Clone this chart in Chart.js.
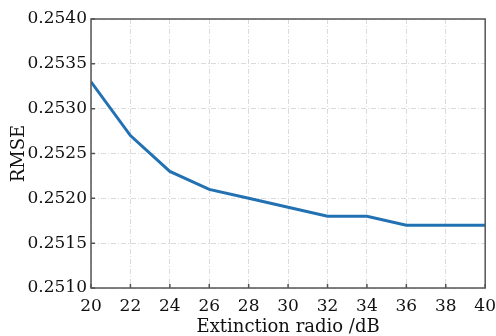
<!DOCTYPE html>
<html>
<head>
<meta charset="utf-8">
<script src="https://cdn.jsdelivr.net/npm/chart.js@4/dist/chart.umd.min.js"></script>
<style>
  html, body { margin: 0; padding: 0; background: #fff; }
  #wrap { width: 496px; height: 336px; }
</style>
</head>
<body>
<div id="wrap"><canvas id="rmseChart"></canvas></div>
<script>
// Extinction ratio (dB) vs RMSE
const ratios = [20, 22, 24, 26, 28, 30, 32, 34, 36, 38, 40];
const rmse = [0.2533, 0.2527, 0.2523, 0.2521, 0.2520, 0.2519, 0.2518, 0.2518, 0.2517, 0.2517, 0.2517];
const yTicks = [0.2510, 0.2515, 0.2520, 0.2525, 0.2530, 0.2535, 0.2540];

const serif = '"DejaVu Serif", "Liberation Serif", serif';
const ctx = document.getElementById('rmseChart').getContext('2d');

// frame box + inward tick marks
const frame = {
    id: 'frame',
    afterDraw(chart) {
        const { ctx, chartArea: a, scales } = chart;
        ctx.save();
        ctx.strokeStyle = '#555';
        ctx.lineWidth = 1.5;
        ctx.beginPath();
        scales.x.ticks.forEach(t => {
            const px = scales.x.getPixelForValue(t.value);
            ctx.moveTo(px, a.bottom);
            ctx.lineTo(px, a.bottom - 4);
        });
        scales.y.ticks.forEach(t => {
            const py = scales.y.getPixelForValue(t.value);
            ctx.moveTo(a.left, py);
            ctx.lineTo(a.left + 4, py);
        });
        ctx.stroke();
        ctx.strokeRect(a.left, a.top, a.right - a.left, a.bottom - a.top);
        ctx.restore();
    }
};

new Chart(ctx, {
    type: 'line',
    data: {
        datasets: [{
            data: ratios.map((r, i) => ({ x: r, y: rmse[i] })),
            borderColor: '#2271b2',
            borderWidth: 3,
            pointRadius: 0,
            tension: 0
        }]
    },
    options: {
        responsive: true,
        maintainAspectRatio: false,
        animation: false,
        layout: { padding: { top: 19, right: 0, left: 0, bottom: 0 } },
        plugins: {
            legend: { display: false },
            tooltip: { enabled: false }
        },
        scales: {
            x: {
                type: 'linear',
                min: 20,
                max: 40,
                afterFit: axis => { axis.height = 48; },
                ticks: {
                    stepSize: 2,
                    color: '#111',
                    padding: 0,
                    font: { family: serif, size: 17, lineHeight: 2.18 }
                },
                grid: { color: '#dadada', lineWidth: 1, drawTicks: false },
                border: { display: false, dash: [5, 2, 1, 2] },
                title: {
                    display: true,
                    text: 'Extinction radio /dB',
                    color: '#111',
                    padding: { top: 0, bottom: 0 },
                    font: { family: serif, size: 18, lineHeight: 1 }
                }
            },
            y: {
                min: 0.2510,
                max: 0.2540,
                afterFit: axis => { axis.width = 91; },
                afterBuildTicks: axis => {
                    axis.ticks = yTicks.map(v => ({ value: v }));
                },
                ticks: {
                    color: '#111',
                    padding: 4,
                    font: { family: serif, size: 17 },
                    callback: v => v.toFixed(4)
                },
                grid: { color: '#dadada', lineWidth: 1, drawTicks: false },
                border: { display: false, dash: [5, 2, 1, 2] },
                title: {
                    display: true,
                    text: 'RMSE',
                    color: '#111',
                    padding: { top: 10, bottom: 0 },
                    font: { family: serif, size: 18, lineHeight: 1 }
                }
            }
        }
    },
    plugins: [frame]
});
</script>
</body>
</html>
